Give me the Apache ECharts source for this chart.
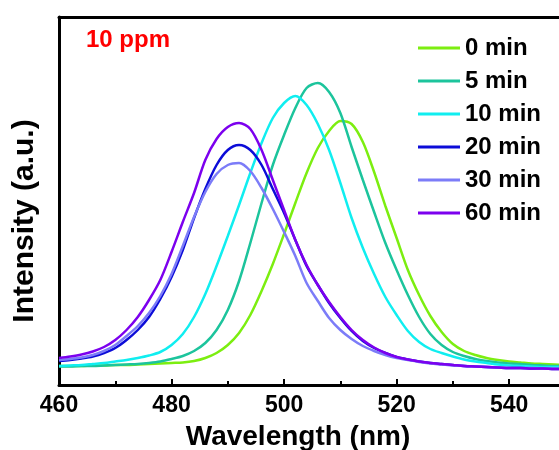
<!DOCTYPE html>
<html>
<head>
<meta charset="utf-8">
<script src="https://cdn.jsdelivr.net/npm/echarts@6/dist/echarts.min.js"></script>
<style>
  html, body { margin: 0; padding: 0; background: #fff; }
  #chart { width: 559px; height: 450px; }
</style>
</head>
<body>
<div id="chart"></div>
<script>
// Emission spectra of the probe (10 ppm) recorded at different reaction times.
const wavelengths = [460, 462, 464, 466, 468, 470, 472, 474, 476, 478, 480, 482, 484, 486, 488, 490,
  492, 494, 496, 498, 500, 502, 504, 506, 508, 510, 512, 514, 516, 518, 520, 522, 524, 526, 528,
  530, 532, 534, 536, 538, 540, 542, 544, 546, 548, 550];

const xTickLabels = [460, 480, 500, 520, 540];

const seriesNames = ['0 min', '5 min', '10 min', '20 min', '30 min', '60 min'];
const seriesColors = ['#7cee10', '#1cc49c', '#10eef0', '#0c0cd8', '#7c7cf8', '#7c00ee'];

const min0 = [19, 19, 19, 19.5, 19.5, 20, 20, 20.5, 21, 21.5, 22, 22.5, 24, 27, 32, 40, 52, 70, 94, 121,
  151, 182, 212, 237, 254, 264, 261, 243, 213, 179, 147, 115, 90, 69, 53, 41, 34, 30, 27, 25, 23.5,
  22.5, 21.5, 21, 20.5, 20];
const min5 = [18.5, 18.5, 19, 19, 19.5, 20, 20.5, 21, 22, 23.5, 26, 29, 34, 42, 55, 75, 104, 142, 182,
  220, 250, 277, 297, 302, 293, 272, 238, 205, 173, 142, 115, 90, 68, 51, 40, 33, 29, 26, 24, 22.5,
  21.5, 21, 20, 19.5, 19, 19];
const min10 = [19, 19.5, 20, 21, 22, 23.5, 25, 27, 29.5, 33, 40, 51, 68, 91, 119, 149, 180, 212, 242,
  267, 282, 289, 280, 261, 235, 202, 167, 137, 111, 88, 70, 54, 43, 36, 32, 28.5, 25.5, 23.5, 22,
  20.5, 19.5, 19, 18.5, 18, 18, 18];
const min20 = [24, 25, 26.5, 28.5, 32, 37, 45, 55, 68, 86, 108, 135, 167, 196, 220, 235, 240, 235, 220,
  196, 172, 145, 119, 100, 82, 67, 54, 44, 37, 32, 28, 25.5, 23.5, 22, 21, 20, 19, 18.5, 18, 17.5,
  17, 17, 16.5, 16.5, 16, 16];
const min30 = [25, 26, 27.5, 30, 34, 40, 49, 59, 72, 89, 111, 139, 168, 193, 211, 220, 222, 214, 197,
  176, 153, 129, 102, 84, 67, 55, 46, 39, 34, 30, 27, 25, 23, 21.5, 20.5, 19.5, 19, 18.5, 18, 17.5,
  17, 17, 17, 16.5, 16.5, 16];
const min60 = [27, 28.5, 30.5, 33.5, 38, 45, 55, 68, 85, 105, 133, 163, 192, 225, 246, 258, 262, 256,
  235, 205, 175, 145, 120, 100, 83, 68, 55, 45, 37.5, 32, 28, 25.5, 23.5, 22, 21, 20, 19, 18.5, 18,
  17.5, 17, 17, 16.5, 16.5, 16, 16];

const intensities = [min0, min5, min10, min20, min30, min60];

const FONT = '"Liberation Sans", Arial, Helvetica, sans-serif';

const chart = echarts.init(document.getElementById('chart'), null, { renderer: 'canvas' });

const series = seriesNames.map((name, i) => ({
  name: name,
  type: 'line',
  showSymbol: false,
  smooth: 0.3,
  color: seriesColors[i],
  lineStyle: { width: 2.5, color: seriesColors[i] },
  data: wavelengths.map((w, k) => [w, intensities[i][k]])
}));

chart.setOption({
  animation: false,
  backgroundColor: '#fff',
  grid: { left: 59, top: 17, bottom: 65, right: -62.7, outerBoundsMode: 'none', containLabel: false },
  xAxis: [
    {
      type: 'value', position: 'bottom', min: 460, max: 560, interval: 20,
      axisLine: { show: true, lineStyle: { color: '#000', width: 3 } },
      axisTick: { show: true, inside: true, length: 6, lineStyle: { color: '#000', width: 2 } },
      minorTick: { show: true, splitNumber: 2, length: 4, lineStyle: { color: '#000', width: 2 } },
      axisLabel: {
        margin: 9, color: '#000', fontSize: 23, fontWeight: 'bold', fontFamily: FONT,
        formatter: v => (xTickLabels.indexOf(v) >= 0 ? String(v) : '')
      },
      splitLine: { show: false }, minorSplitLine: { show: false }
    },
    {
      type: 'value', position: 'top', min: 460, max: 560,
      axisLine: { show: true, lineStyle: { color: '#000', width: 3 } },
      axisTick: { show: false }, axisLabel: { show: false }, splitLine: { show: false }
    }
  ],
  yAxis: {
    type: 'value', min: 0, max: 368,
    axisLine: { show: true, lineStyle: { color: '#000', width: 3 } },
    axisTick: { show: false }, axisLabel: { show: false }, splitLine: { show: false }
  },
  legend: {
    orient: 'vertical', left: 413, top: 31,
    icon: 'rect', itemWidth: 42, itemHeight: 3, itemGap: 9,
    selectedMode: false,
    data: seriesNames,
    textStyle: { color: '#000', fontSize: 24, lineHeight: 24, fontWeight: 'bold', fontFamily: FONT }
  },
  graphic: [
    {
      type: 'text', x: 86, y: 40,
      style: { text: '10 ppm', fill: '#ff0000', font: 'bold 24px ' + FONT,
               align: 'left', textAlign: 'left', verticalAlign: 'middle', textVerticalAlign: 'middle' }
    },
    {
      type: 'text', x: 298, y: 437,
      style: { text: 'Wavelength (nm)', fill: '#000', font: 'bold 28px ' + FONT,
               align: 'center', textAlign: 'center', verticalAlign: 'middle', textVerticalAlign: 'middle' }
    },
    {
      type: 'text', x: 25, y: 221, rotation: Math.PI / 2,
      style: { text: 'Intensity (a.u.)', fill: '#000', font: 'bold 30px ' + FONT,
               align: 'center', textAlign: 'center', verticalAlign: 'middle', textVerticalAlign: 'middle' }
    }
  ],
  series: series
});
</script>
</body>
</html>
